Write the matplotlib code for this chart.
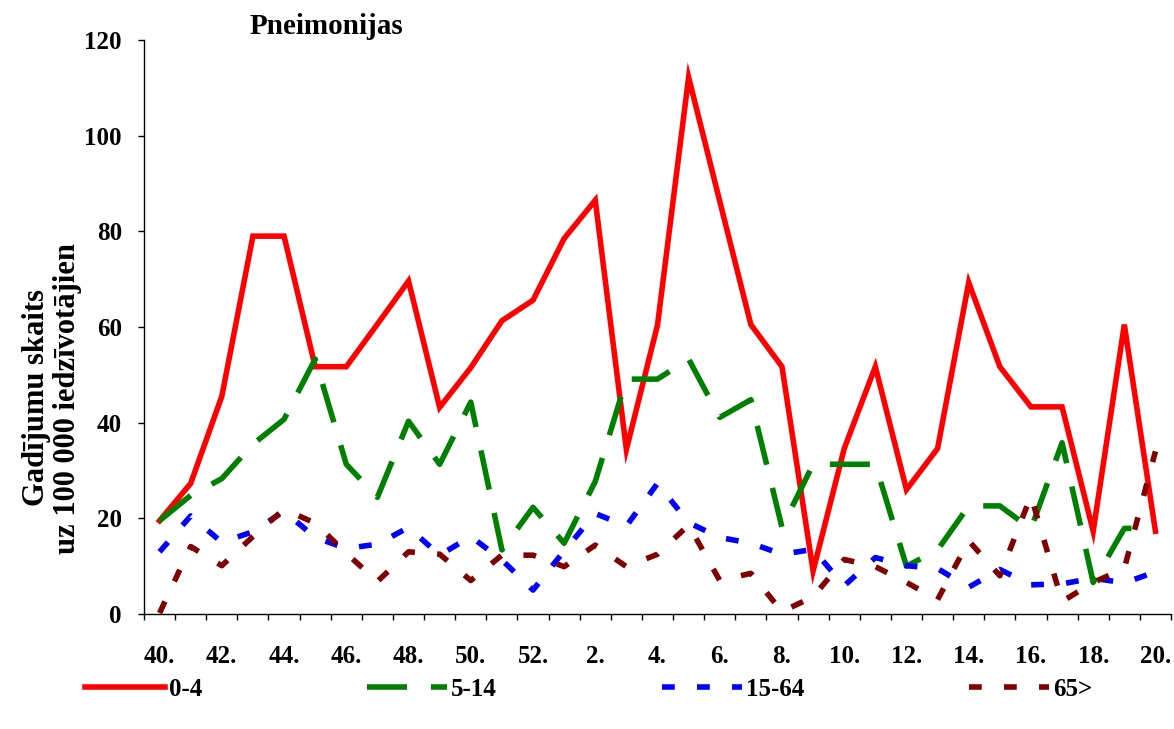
import matplotlib
matplotlib.use("Agg")
import matplotlib.pyplot as plt
import numpy as np

weeks = [40, 41, 42, 43, 44, 45, 46, 47, 48, 49, 50, 51, 52,
         1, 2, 3, 4, 5, 6, 7, 8, 9, 10, 11, 12, 13, 14, 15, 16, 17, 18, 19, 20]

s_0_4 = [19.5, 27.3, 45.5, 79.0, 79.0, 51.7, 51.7, 60.6, 69.6, 43.2, 51.5, 61.3, 65.6,
         78.5, 86.5, 34.4, 60.4, 112.2, 86.3, 60.5, 51.7, 9.0, 34.6, 51.7, 26.0, 34.6,
         69.3, 51.7, 43.3, 43.3, 17.3, 60.5, 17.3]
s_5_14 = [19.5, 24.8, 28.3, 35.5, 40.7, 53.3, 31.3, 24.4, 40.3, 31.3, 44.3, 13.4, 22.3,
          14.8, 27.7, 49.1, 49.1, 53.3, 41.1, 44.8, 18.1, 31.3, 31.3, 31.3, 10.0, 13.4,
          22.6, 22.6, 17.8, 35.8, 6.6, 17.9, 17.9]
s_15_64 = [13.0, 20.5, 15.0, 17.2, 21.5, 16.0, 13.7, 14.6, 18.1, 12.3, 16.2, 11.3, 5.0,
           13.2, 21.0, 18.4, 27.3, 19.1, 16.0, 14.8, 12.5, 13.5, 5.9, 11.8, 10.1, 9.5,
           5.6, 9.3, 6.1, 6.3, 7.5, 6.5, 8.8]
s_65 = [0.2, 14.1, 10.1, 16.2, 21.9, 19.0, 12.7, 6.8, 13.0, 12.5, 7.0, 12.3, 12.3,
        9.9, 14.4, 9.9, 12.5, 18.6, 7.0, 8.5, 0.5, 3.6, 11.4, 9.9, 6.6, 3.0, 15.3,
        8.0, 24.7, 2.6, 6.6, 9.5, 34.0]

series_labels = ["0-4", "5-14", "15-64", "65>"]
colors = ["#FF0000", "#008000", "#0000FF", "#800000"]
title = "Pneimonijas"
ylabel = "Gadījumu skaits\nuz 100 000 iedzīvotājien"
yticks = [0, 20, 40, 60, 80, 100, 120]

plt.rcParams['font.family'] = ['Liberation Serif', 'DejaVu Serif']
plt.rcParams['font.weight'] = 'bold'

fig = plt.figure(figsize=(11.74, 7.29), dpi=100)
ax = fig.add_axes([144/1174, 1-614/729, 1027/1174, 574/729])

x = np.arange(len(weeks))
lw = 4.0
styles = [dict(linestyle='-'),
          dict(dashes=(7.2, 4.3)),
          dict(dashes=(2.3, 4.0)),
          dict(dashes=(2.3, 4.0))]
for data, lab, col, st in zip([s_0_4, s_5_14, s_15_64, s_65], series_labels, colors, styles):
    ax.plot(x, data, color=col, lw=lw, label=lab, clip_on=False,
            solid_joinstyle='miter', dash_capstyle='butt', **st)

ax.set_xlim(-0.5, len(weeks) - 0.5)
ax.set_ylim(0, 120)
ax.set_yticks(yticks)
ax.set_yticklabels([str(v) for v in yticks])

# major ticks at category boundaries, labels at category centers (every second)
ax.set_xticks(np.arange(-0.5, len(weeks), 1.0))
ax.set_xticklabels([])
lab_pos = x[::2]
ax.set_xticks(lab_pos, minor=True)
ax.set_xticklabels([f"{weeks[i]}." for i in lab_pos], minor=True)
ax.tick_params(axis='x', which='major', direction='out', length=4, width=1, color='black')
ax.tick_params(axis='x', which='minor', length=0, pad=22, labelsize=18)
ax.tick_params(axis='y', direction='out', length=4, width=1, pad=12, labelsize=18)

for sp in ['top', 'right']:
    ax.spines[sp].set_visible(False)
for sp in ['left', 'bottom']:
    ax.spines[sp].set_linewidth(1.0)
    ax.spines[sp].set_color('black')

fig.text(326/1174, 1-27/729, title, ha='center', va='center', fontsize=21, fontweight='bold')
fig.text(52/1174, 1-398/729, ylabel, ha='center', va='center', rotation=90,
         fontsize=22, fontweight='bold', multialignment='center', linespacing=1.05)

handles, labels = ax.get_legend_handles_labels()
fig.legend(handles, labels, loc='center left', bbox_to_anchor=(85/1174, 1-689/729),
           ncol=4, frameon=False, fontsize=18, handlelength=3.2, handletextpad=0.15,
           columnspacing=6.6, borderpad=0, borderaxespad=0)

fig.savefig("out.png", dpi=100)
